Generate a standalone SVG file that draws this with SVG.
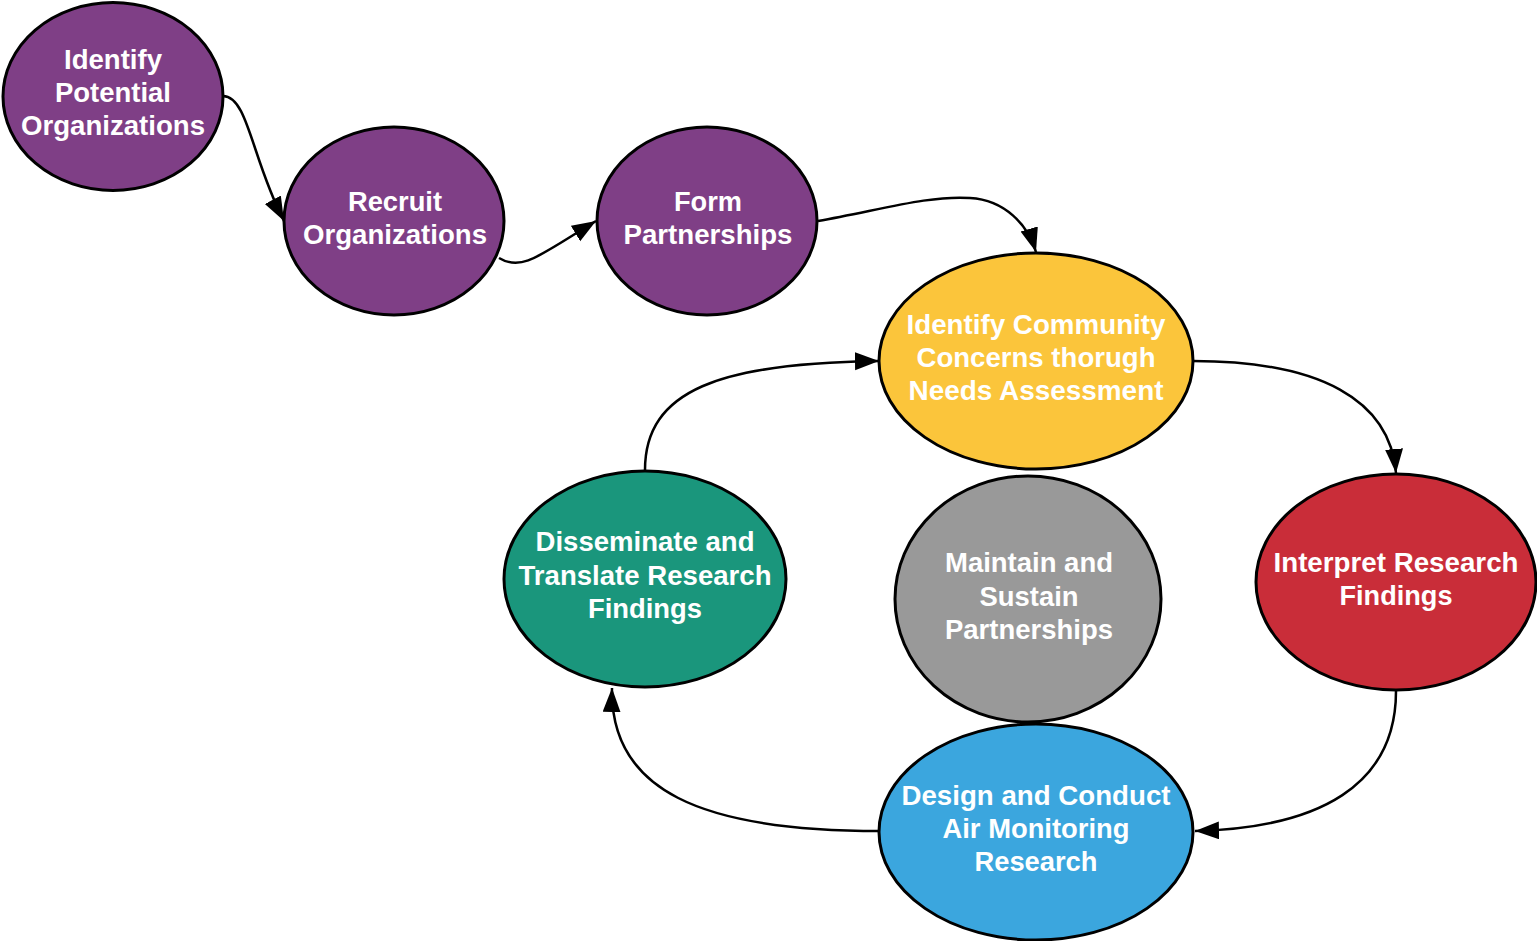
<svg xmlns="http://www.w3.org/2000/svg" width="1537" height="941" viewBox="0 0 1537 941">
<style>
.n{stroke:#000;stroke-width:3}
.t{font-family:"Liberation Sans",Arial,sans-serif;font-weight:bold;font-size:27px;fill:#fff;text-anchor:middle}
.c{fill:none;stroke:#000;stroke-width:2.5;marker-end:url(#ah)}
</style>
<defs>
<marker id="ah" markerUnits="userSpaceOnUse" markerWidth="26" markerHeight="20" viewBox="0 0 26 20" refX="24" refY="9" orient="auto">
<path d="M0,0 L24,9 L0,18 z" fill="#000"/>
</marker>
</defs>
<rect width="1537" height="941" fill="#fff"/>
<g id="connectors">
<path class="c" d="M223,96 C248,96 252,160 284,221"/>
<path class="c" d="M499,258 C522,272 540,255 596,221"/>
<path class="c" d="M818,221 C880,210 930,195 970,198 C1005,200 1028,225 1036,252"/>
<path class="c" d="M1193,361 C1320,361 1390,400 1396,473"/>
<path class="c" d="M1396,691 C1396,785 1320,828 1195,831"/>
<path class="c" d="M880,831 C700,831 610,790 612,688"/>
<path class="c" d="M645,470 C645,390 720,363 879,361"/>
</g>
<g id="n1"><ellipse class="n" cx="113" cy="96.5" rx="110" ry="94" fill="#7F3F86"/>
<text class="t" x="113" y="69" textLength="98" lengthAdjust="spacingAndGlyphs">Identify</text>
<text class="t" x="113" y="102" textLength="116" lengthAdjust="spacingAndGlyphs">Potential</text>
<text class="t" x="113" y="135" textLength="184" lengthAdjust="spacingAndGlyphs">Organizations</text></g>
<g id="n2"><ellipse class="n" cx="394" cy="221" rx="110" ry="94" fill="#7F3F86"/>
<text class="t" x="395" y="211" textLength="94" lengthAdjust="spacingAndGlyphs">Recruit</text>
<text class="t" x="395" y="244" textLength="184" lengthAdjust="spacingAndGlyphs">Organizations</text></g>
<g id="n3"><ellipse class="n" cx="707" cy="221" rx="110" ry="94" fill="#7F3F86"/>
<text class="t" x="708" y="211" textLength="68" lengthAdjust="spacingAndGlyphs">Form</text>
<text class="t" x="708" y="244" textLength="169" lengthAdjust="spacingAndGlyphs">Partnerships</text></g>
<g id="n4"><ellipse class="n" cx="1036" cy="361" rx="157" ry="108" fill="#FBC53B"/>
<text class="t" x="1036" y="334" textLength="259" lengthAdjust="spacingAndGlyphs">Identify Community</text>
<text class="t" x="1036" y="367" textLength="239" lengthAdjust="spacingAndGlyphs">Concerns thorugh</text>
<text class="t" x="1036" y="400" textLength="255" lengthAdjust="spacingAndGlyphs">Needs Assessment</text></g>
<g id="n5"><ellipse class="n" cx="1396" cy="582" rx="140" ry="108" fill="#C92D39"/>
<text class="t" x="1396" y="572" textLength="245" lengthAdjust="spacingAndGlyphs">Interpret Research</text>
<text class="t" x="1396" y="605" textLength="113" lengthAdjust="spacingAndGlyphs">Findings</text></g>
<g id="n6"><ellipse class="n" cx="1028" cy="599" rx="133" ry="123" fill="#999999"/>
<text class="t" x="1029" y="572" textLength="168" lengthAdjust="spacingAndGlyphs">Maintain and</text>
<text class="t" x="1029" y="606" textLength="99" lengthAdjust="spacingAndGlyphs">Sustain</text>
<text class="t" x="1029" y="639" textLength="168" lengthAdjust="spacingAndGlyphs">Partnerships</text></g>
<g id="n7"><ellipse class="n" cx="1036" cy="832" rx="157" ry="108" fill="#3BA6DE"/>
<text class="t" x="1036" y="805" textLength="269" lengthAdjust="spacingAndGlyphs">Design and Conduct</text>
<text class="t" x="1036" y="838" textLength="187" lengthAdjust="spacingAndGlyphs">Air Monitoring</text>
<text class="t" x="1036" y="871" textLength="123" lengthAdjust="spacingAndGlyphs">Research</text></g>
<g id="n8"><ellipse class="n" cx="645" cy="579" rx="141" ry="108" fill="#1A967C"/>
<text class="t" x="645" y="551" textLength="219" lengthAdjust="spacingAndGlyphs">Disseminate and</text>
<text class="t" x="645" y="585" textLength="253" lengthAdjust="spacingAndGlyphs">Translate Research</text>
<text class="t" x="645" y="618" textLength="114" lengthAdjust="spacingAndGlyphs">Findings</text></g>
</svg>
